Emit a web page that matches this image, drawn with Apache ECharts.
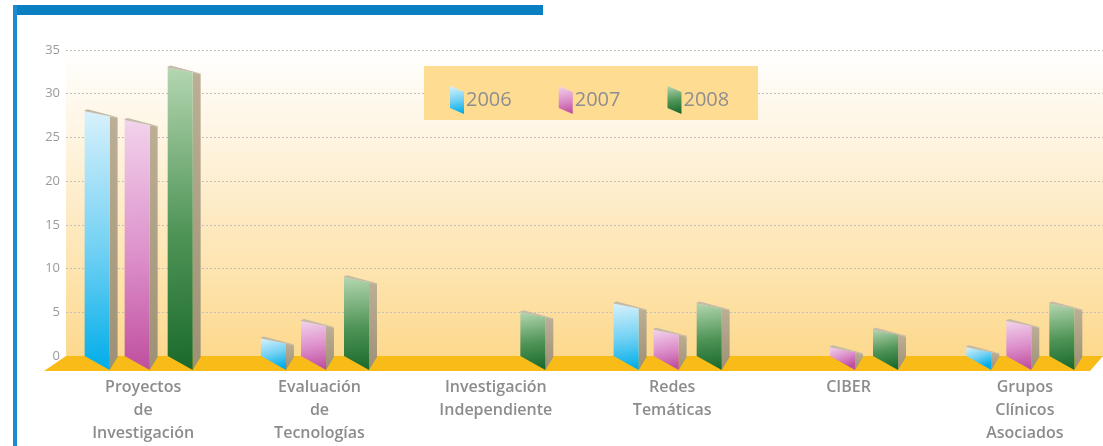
<!DOCTYPE html>
<html>
<head>
<meta charset="utf-8">
<script src="https://cdn.jsdelivr.net/npm/echarts@6/dist/echarts.min.js"></script>
<style>
  html, body { margin: 0; padding: 0; background: #fff; }
  #chart { width: 1103px; height: 446px; }
</style>
</head>
<body>
<div id="chart"></div>
<script>
// --- DATEN ---
const categories = [
    'Proyectos\nde\nInvestigación',
    'Evaluación\nde\nTecnologías',
    'Investigación\nIndependiente',
    'Redes\nTemáticas',
    'CIBER',
    'Grupos\nClínicos\nAsociados'
];
const years = ['2006', '2007', '2008'];
const values2006 = [28, 2, 0, 6, 0, 1];
const values2007 = [27, 4, 0, 3, 1, 4];
const values2008 = [33, 9, 5, 6, 3, 6];
const yMin = 0;
const yMax = 35;
const yStep = 5;

// --- STIL ---
const frontColors = [
    ['#d8f1fc', '#6fd0f3', '#00ade9'],
    ['#f2d3ec', '#dc8fca', '#c04f9f'],
    ['#b4d6b0', '#4f9457', '#1a6a2c']
];
// Versatz der Balken innerhalb einer Kategorie (Anteil der Kategoriebreite)
const offsets = [-0.332, -0.105, 0.139];

function frontGradient(k) {
    return new echarts.graphic.LinearGradient(0, 0, 0.35, 1, [
        { offset: 0, color: frontColors[k][0] },
        { offset: 0.55, color: frontColors[k][1] },
        { offset: 1, color: frontColors[k][2] }
    ]);
}

function barRenderer(k) {
    return function (params, api) {
        const v = api.value(1);
        if (!v) return null;
        const top = api.coord([api.value(0), v]);
        const base = api.coord([api.value(0), 0]);
        const band = api.size([1, 0])[0];
        const x0 = top[0] + band * offsets[k];
        const fw = band * 0.142;
        const sw = band * 0.045;
        const yv = top[1];
        const y0 = base[1];
        return {
            type: 'group',
            children: [
                {
                    type: 'polygon',
                    shape: { points: [[x0 + fw, yv + 5], [x0 + fw + sw, yv + 7], [x0 + fw + sw, y0 + 1], [x0 + fw, y0 + 14]] },
                    style: { fill: new echarts.graphic.LinearGradient(0, 0, 0, 1, [
                        { offset: 0, color: '#bcaf95' }, { offset: 1, color: '#9d9074' }
                    ]) }
                },
                {
                    type: 'polygon',
                    shape: { points: [[x0, yv], [x0 + fw, yv + 5], [x0 + fw, y0 + 14], [x0, y0]] },
                    style: { fill: frontGradient(k) }
                },
                {
                    type: 'polygon',
                    shape: { points: [[x0, yv - 1], [x0 + 3, yv - 2], [x0 + fw + sw, yv + 6], [x0 + fw + sw, yv + 7], [x0 + fw, yv + 5], [x0, yv]] },
                    style: { fill: '#c3baa8' }
                }
            ]
        };
    };
}

function floorRenderer(params, api) {
    const cs = params.coordSys;
    const y0 = api.coord([0, 0])[1];
    return {
        type: 'polygon',
        shape: { points: [[cs.x, y0], [cs.x + cs.width, y0], [cs.x + cs.width - 13, y0 + 15], [cs.x - 22, y0 + 15]] },
        style: { fill: '#f8bb18' }
    };
}

const chart = echarts.init(document.getElementById('chart'));

const seriesValues = [values2006, values2007, values2008];
const barSeries = years.map((name, k) => ({
    name: name,
    type: 'custom',
    xAxisIndex: 0,
    yAxisIndex: 0,
    z: 5,
    itemStyle: { color: frontGradient(k) },
    renderItem: barRenderer(k),
    data: seriesValues[k].map((v, i) => [i, v])
}));

chart.setOption({
    animation: false,
    backgroundColor: '#ffffff',
    grid: [
        { left: 55, right: -10, top: 50, bottom: 90, outerBoundsMode: 'none', containLabel: false },
        {
            left: 66, right: 0, top: 50, bottom: 90, show: true, borderWidth: 0,
            outerBoundsMode: 'none', containLabel: false,
            backgroundColor: new echarts.graphic.LinearGradient(0, 0, 0, 1, [
                { offset: 0, color: '#ffffff' },
                { offset: 0.35, color: '#fef2da' },
                { offset: 1, color: '#fdd98e' }
            ])
        }
    ],
    xAxis: [
        {
            type: 'category', gridIndex: 0, data: categories,
            axisLine: { show: false }, axisTick: { show: false },
            axisLabel: { margin: 20, color: '#8c8c8c', fontFamily: 'Open Sans', fontWeight: 600, fontSize: 16, lineHeight: 23, interval: 0 }
        },
        { type: 'value', gridIndex: 1, min: 0, max: 1, show: false }
    ],
    yAxis: [
        { type: 'value', gridIndex: 0, min: yMin, max: yMax, interval: yStep, show: false },
        {
            type: 'value', gridIndex: 1, min: yMin, max: yMax, interval: yStep,
            axisLine: { show: false }, axisTick: { show: false },
            axisLabel: { margin: 6, color: '#9a9a9a', fontFamily: 'Open Sans', fontSize: 13 },
            splitLine: { lineStyle: { color: '#c4c0b8', type: [2, 2], width: 1 } }
        }
    ],
    legend: {
        data: years,
        left: 445, top: 81,
        itemWidth: 14, itemHeight: 28, itemGap: 47,
        icon: 'path://M0,0L14,6L14,28L0,22Z',
        textStyle: { color: '#8e8e8e', fontFamily: 'Open Sans', fontSize: 20, padding: [0, 0, 0, -3] },
        z: 6
    },
    graphic: [
        { type: 'rect', left: 13, top: 5, shape: { width: 530, height: 10 }, style: { fill: '#0a80c2' }, z: 10 },
        { type: 'rect', left: 13, top: 5, shape: { width: 4, height: 441 }, style: { fill: '#1e8ccc' }, z: 10 },
        { type: 'rect', left: 424, top: 66, shape: { width: 334, height: 54 }, style: { fill: '#fedd93' }, z: 3 }
    ],
    series: [
        {
            name: 'floor', type: 'custom', xAxisIndex: 1, yAxisIndex: 1, z: 1, silent: true,
            renderItem: floorRenderer, data: [[0, 0]]
        }
    ].concat(barSeries)
});

window.addEventListener('resize', () => chart.resize());
</script>
</body>
</html>
